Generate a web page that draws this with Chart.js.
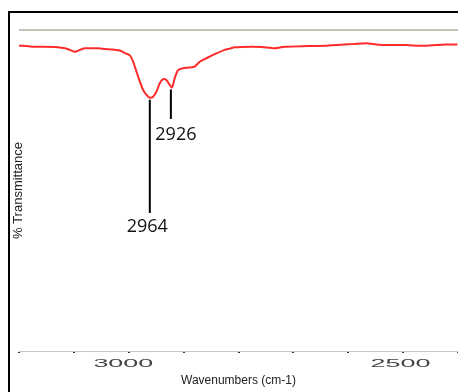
<!DOCTYPE html>
<html>
<head>
<meta charset="utf-8">
<script src="https://cdn.jsdelivr.net/npm/chart.js@4/dist/chart.umd.min.js"></script>
<style>
  html, body { margin: 0; padding: 0; background: #fff; overflow: hidden; }
  #frame {
    position: absolute; left: 8px; top: 11px; width: 470px; height: 400px;
    border-left: 2px solid #000; border-top: 2px solid #000;
  }
  #wrap { position: absolute; left: 0; top: 0; width: 458px; height: 392px; }
</style>
</head>
<body>
<div id="frame"></div>
<div id="wrap"><canvas id="irChart"></canvas></div>
<script>
// spectrum (cm-1, %T)
var wavenumbers = [3200, 3177, 3135, 3117, 3108, 3099, 3090, 3081, 3057, 3045,
    3030, 3018, 3009, 3000, 2994, 2988, 2982, 2976, 2970, 2964,
    2958, 2952, 2946, 2940, 2934, 2928, 2924, 2919, 2913, 2904,
    2892, 2883, 2874, 2862, 2844, 2829, 2820, 2811, 2781, 2762,
    2739, 2721, 2679, 2649, 2613, 2598, 2573, 2555, 2537, 2501,
    2477, 2459, 2429, 2409];
var transmittance = [95.2, 94.8, 94.7, 94.3, 93.8, 93.2, 93.8, 94.3, 94.3, 94.1,
    93.9, 93.6, 92.8, 92.1, 90.1, 87.0, 83.9, 81.3, 79.8, 78.9,
    79.2, 80.8, 83.4, 84.7, 84.4, 82.9, 82.1, 85.0, 87.5, 88.1,
    88.3, 88.6, 90.1, 91.2, 92.7, 93.8, 94.2, 94.6, 94.8, 94.7,
    94.3, 94.8, 95.0, 95.1, 95.5, 95.6, 95.9, 95.5, 95.3, 95.3,
    95.1, 95.2, 95.5, 95.5];

var tickLabels = ['3000', '2500'];
var peakWavenumbers = [2964, 2926];
var peakLabels = ['2964', '2926'];

function dipAt(w) {
    var best = Infinity;
    wavenumbers.forEach(function(v, i) {
        if (Math.abs(v - w) <= 6) best = Math.min(best, transmittance[i]);
    });
    return best;
}

// wide, squat tick labels like the old spectrometer print-out
var stretchedTicks = {
    id: 'stretchedTicks',
    afterDraw: function(chart) {
        var ctx = chart.ctx, x = chart.scales.x;
        ctx.save();
        ctx.fillStyle = '#444';
        ctx.font = '11px "Liberation Sans", Arial, sans-serif';
        ctx.textAlign = 'center';
        ctx.textBaseline = 'middle';
        tickLabels.forEach(function(t) {
            ctx.save();
            ctx.translate(x.getPixelForValue(Number(t)) - 6.5, 364);
            ctx.scale(2.45, 1);
            ctx.fillText(t, 0, 0);
            ctx.restore();
        });
        ctx.restore();
    }
};

// peak call-outs: line from the dip down to the number
var peakCallouts = {
    id: 'peakCallouts',
    afterDraw: function(chart, args, opts) {
        var ctx = chart.ctx, x = chart.scales.x, y = chart.scales.y;
        ctx.save();
        ctx.strokeStyle = '#000';
        ctx.lineWidth = 2;
        ctx.fillStyle = '#111';
        ctx.font = '18px "Open Sans", sans-serif';
        ctx.textAlign = 'center';
        ctx.textBaseline = 'alphabetic';
        peakWavenumbers.forEach(function(w, i) {
            var px = x.getPixelForValue(w);
            var top = y.getPixelForValue(dipAt(w)) + 2;
            var bottom = y.getPixelForValue(opts.lineEnd[i]);
            ctx.beginPath();
            ctx.moveTo(px, top);
            ctx.lineTo(px, bottom);
            ctx.stroke();
            ctx.fillText(peakLabels[i], px + opts.labelDx[i], bottom + opts.labelDy[i]);
        });
        ctx.restore();
    }
};

var ctx = document.getElementById('irChart').getContext('2d');
new Chart(ctx, {
    type: 'line',
    data: {
        datasets: [{
            data: wavenumbers.map(function(w, i) { return {x: w, y: transmittance[i]}; }),
            borderColor: '#ff2b2b',
            borderWidth: 2,
            pointRadius: 0,
            tension: 0.25,
            fill: false
        }]
    },
    options: {
        responsive: true,
        maintainAspectRatio: false,
        animation: false,
        layout: { padding: { left: 4, top: 30, right: 0, bottom: 0 } },
        plugins: {
            legend: { display: false },
            tooltip: { enabled: false },
            peakCallouts: { lineEnd: [43, 72.3], labelDx: [-2.5, 5], labelDy: [19, 21] }
        },
        scales: {
            x: {
                type: 'linear',
                reverse: true,
                min: 2408,
                max: 3200,
                afterFit: function(scale) { scale.height = 41; },
                ticks: { display: false, stepSize: 100, includeBounds: false },
                grid: {
                    drawOnChartArea: false,
                    drawTicks: true,
                    tickLength: 2,
                    tickColor: '#333',
                    lineWidth: 2
                },
                border: { color: '#c8c8c8', width: 1 },
                title: {
                    display: true,
                    text: 'Wavenumbers (cm-1)',
                    color: '#222',
                    font: { family: '"Liberation Sans", Arial, sans-serif', size: 12 },
                    padding: { top: 0, bottom: 4 }
                }
            },
            y: {
                min: 0,
                max: 100,
                afterFit: function(scale) { scale.width = 15; },
                ticks: { display: false, stepSize: 10 },
                border: { display: false },
                grid: {
                    drawTicks: false,
                    lineWidth: 2,
                    color: function(c) { return c.tick && c.tick.value === 100 ? '#c5c3b9' : 'rgba(0,0,0,0)'; }
                },
                title: {
                    display: true,
                    text: '% Transmittance',
                    color: '#222',
                    font: { family: '"Liberation Sans", Arial, sans-serif', size: 13 },
                    padding: { top: 7, bottom: 0 }
                }
            }
        }
    },
    plugins: [stretchedTicks, peakCallouts]
});
</script>
</body>
</html>
